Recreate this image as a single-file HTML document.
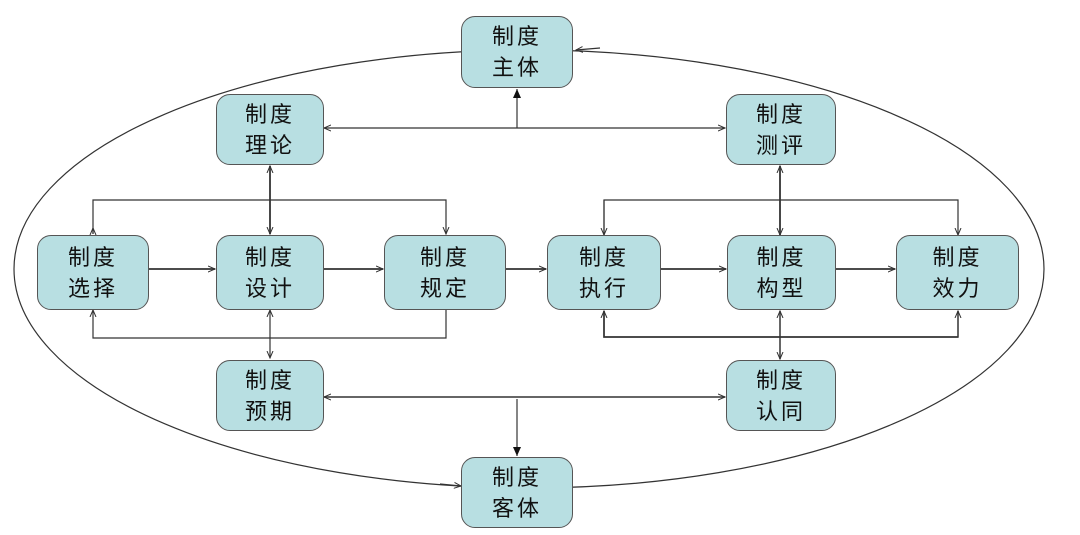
<!DOCTYPE html>
<html><head><meta charset="utf-8"><style>
body{margin:0;background:#fff;width:1080px;height:535px;overflow:hidden;position:relative;font-family:"Liberation Sans","Noto Sans CJK SC",sans-serif}
svg{position:absolute;left:0;top:0}
.b{position:absolute;background:#b8dfe2;border:1.5px solid #555;border-radius:14px;box-sizing:border-box;display:flex;align-items:center;justify-content:center;text-align:center;font-size:22px;line-height:31px;letter-spacing:3px;color:#111}
</style></head><body>
<svg width="1080" height="535" viewBox="0 0 1080 535">
<defs>
<marker id="a" markerWidth="8" markerHeight="8" refX="7" refY="4" orient="auto-start-reverse" markerUnits="userSpaceOnUse"><path d="M0,1 L7,4 L0,7" fill="none" stroke="#333" stroke-width="1"/></marker>
<marker id="f" markerWidth="10" markerHeight="10" refX="9" refY="5" orient="auto" markerUnits="userSpaceOnUse"><path d="M0,1 L9,5 L0,9Z" fill="#111"/></marker>
</defs>
<g fill="none" stroke="#333" stroke-width="1.2">
<ellipse cx="529" cy="269" rx="515" ry="219"/>
<path d="M600,48 L576,50" marker-end="url(#a)"/>
<path d="M440,484 L461,486" marker-end="url(#a)"/>
<path d="M324,128 H725" marker-start="url(#a)" marker-end="url(#a)"/>
<path d="M517,128 V89" marker-end="url(#f)"/>
<path d="M270,166 V234" stroke-width="1.8" marker-start="url(#a)" marker-end="url(#a)"/>
<path d="M93,234 V200 H446 V234" marker-end="url(#a)"/>
<path d="M93,234 V228" marker-end="url(#a)"/>
<path d="M446,310 V338 H93 V310" marker-end="url(#a)"/>
<path d="M270,310 V358" marker-start="url(#a)" marker-end="url(#a)"/>
<path d="M149,269 H215" stroke-width="1.8" marker-end="url(#a)"/>
<path d="M324,269 H383" stroke-width="1.8" marker-end="url(#a)"/>
<path d="M506,269 H546" stroke-width="1.8" marker-end="url(#a)"/>
<path d="M661,269 H726" stroke-width="1.8" marker-end="url(#a)"/>
<path d="M836,269 H895" stroke-width="1.8" marker-end="url(#a)"/>
<path d="M780,166 V235" stroke-width="1.8" marker-start="url(#a)" marker-end="url(#a)"/>
<path d="M604,235 V200 H958 V235" marker-end="url(#a)"/>
<path d="M604,200 V235" marker-end="url(#a)"/>
<path d="M604,311 V337 H958 V311" stroke-width="1.5" marker-end="url(#a)"/>
<path d="M958,337 H604 V311" stroke-width="1.5" marker-end="url(#a)"/>
<path d="M780,311 V359" stroke-width="1.5" marker-start="url(#a)" marker-end="url(#a)"/>
<path d="M324,397 H725" stroke-width="1.5" marker-start="url(#a)" marker-end="url(#a)"/>
<path d="M517,399 V456" marker-end="url(#f)"/>
</g>
</svg>
<div class="b" style="left:461px;top:16px;width:112px;height:72px">制度<br>主体</div>
<div class="b" style="left:216px;top:94px;width:108px;height:71px">制度<br>理论</div>
<div class="b" style="left:726px;top:94px;width:110px;height:71px">制度<br>测评</div>
<div class="b" style="left:37px;top:235px;width:112px;height:75px">制度<br>选择</div>
<div class="b" style="left:216px;top:235px;width:108px;height:75px">制度<br>设计</div>
<div class="b" style="left:384px;top:235px;width:122px;height:75px">制度<br>规定</div>
<div class="b" style="left:547px;top:235px;width:114px;height:75px">制度<br>执行</div>
<div class="b" style="left:727px;top:235px;width:109px;height:75px">制度<br>构型</div>
<div class="b" style="left:896px;top:235px;width:123px;height:75px">制度<br>效力</div>
<div class="b" style="left:216px;top:360px;width:108px;height:71px">制度<br>预期</div>
<div class="b" style="left:726px;top:360px;width:110px;height:71px">制度<br>认同</div>
<div class="b" style="left:461px;top:457px;width:112px;height:71px">制度<br>客体</div>
</body></html>
